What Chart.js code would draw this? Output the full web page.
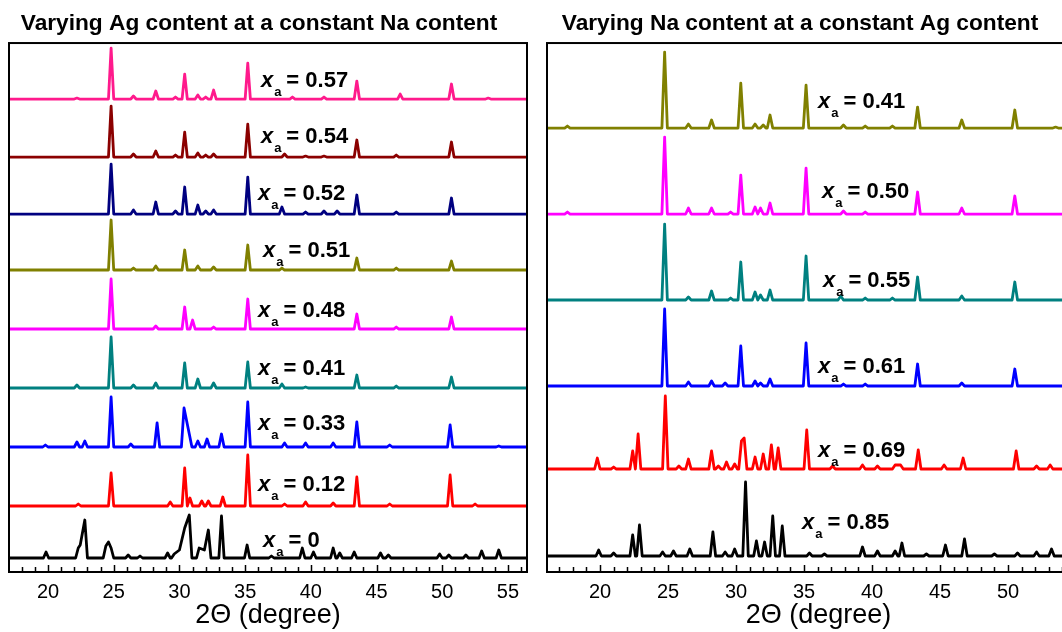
<!DOCTYPE html>
<html><head><meta charset="utf-8">
<script src="https://cdn.jsdelivr.net/npm/chart.js@4.4.1/dist/chart.umd.min.js"></script>
<style>
html,body{margin:0;padding:0;background:#fff;overflow:hidden;width:1062px;height:632px;position:relative;}
#c1{position:absolute;left:-20px;top:0;}
#c2{position:absolute;left:510px;top:0;}
</style></head><body>
<canvas id="c1" width="560" height="632"></canvas>
<canvas id="c2" width="600" height="632"></canvas>
<script>
// ---------- data ----------
const tickValues = [20, 25, 30, 35, 40, 45, 50, 55];
const axisTitle = '2\u0398 (degree)';
const leftTitle = 'Varying Ag content at a constant Na content';
const rightTitle = 'Varying Na content at a constant Ag content';

// left panel (varying Ag), top to bottom
const leftLabels  = ['0.57', '0.54', '0.52', '0.51', '0.48', '0.41', '0.33', '0.12', '0'];
const leftOffsets = [473, 415, 358, 302, 243, 184, 125, 66, 14];
const L057 = [[22.2,1],[24.8,51],[26.5,3],[28.2,8],[29.7,2],[30.4,25],[31.4,4],[32.0,2],[32.6,9],[35.2,36],[38.6,2],[41.0,2],[43.5,18],[46.8,5],[50.7,15],[53.5,1]];
const L054 = [[24.8,51],[26.5,3],[28.2,6],[29.7,2],[30.4,25],[31.4,4],[32.0,2],[32.6,3],[35.2,33],[38.0,3],[39.6,1],[41.0,1],[43.5,17],[46.5,2],[50.7,15]];
const L052 = [[24.8,50],[26.5,4],[28.2,12],[29.7,3],[30.4,27],[31.4,9],[32.0,3],[32.6,4],[35.2,37],[37.8,7],[39.6,2],[41.0,3],[42.0,3],[43.5,19],[46.5,2],[50.7,16]];
const L051 = [[24.8,50],[26.5,2],[28.2,4],[30.4,20],[31.4,4],[32.6,3],[35.2,25],[37.8,2],[43.5,12],[46.5,2],[50.7,9]];
const L048 = [[24.8,50],[28.2,3],[30.4,22],[31.0,9],[32.6,2],[35.2,30],[43.5,15],[46.5,2],[50.7,12]];
const L041 = [[22.2,3],[24.8,51],[26.5,3],[28.2,5],[30.4,25],[31.4,9],[32.6,5],[35.2,26],[37.8,4],[39.6,1],[43.5,13],[46.5,2],[50.7,11]];
const L033 = [[19.8,2],[22.2,5],[22.8,6],[24.8,50],[26.3,3],[28.3,24],[30.35,39],[30.75,13],[31.4,6],[32.1,8],[33.2,13],[35.2,45],[38.0,4],[39.6,4],[41.7,4],[43.5,25],[46.0,2],[50.6,22],[54.3,1]];
const L012 = [[22.3,2],[24.8,33],[29.3,4],[30.4,38],[30.8,8],[31.7,5],[32.2,5],[33.3,9],[35.2,51],[38.0,2],[39.6,4],[41.7,3],[43.5,29],[46.0,2],[50.6,31],[52.5,2]];
const L000 = [[19.85,6],[22.3,10],[22.45,13],[22.8,38],[24.4,12],[24.6,16],[24.8,10],[26.1,3],[27.0,2],[29.1,5],[29.6,4],[30.0,8],[30.4,30],[30.75,43],[31.5,10],[31.9,8],[32.2,28],[33.2,42],[35.15,13],[37.0,2],[39.35,10],[40.2,6],[41.7,10],[42.2,5],[43.3,6],[45.3,5],[45.9,3],[49.8,4],[50.5,3],[51.8,3],[53.0,7],[54.3,8]];
const leftSeries = [L057, L054, L052, L051, L048, L041, L033, L012, L000];
const leftColors = ['#FF1A8C', '#8B0000', '#000080', '#808000', '#FF00FF', '#008080', '#0000FF', '#FF0000', '#000000'];

// right panel (varying Na), top to bottom
const rightLabels  = ['0.41', '0.50', '0.55', '0.61', '0.69', '0.85'];
const rightOffsets = [444, 358, 272, 186, 103, 16];
const R041 = [[17.6,2],[24.75,76],[26.5,4],[28.2,8],[30.35,45],[31.4,4],[32.0,3],[32.5,13],[35.15,43],[37.9,3],[39.5,2],[41.5,2],[43.35,21],[46.6,8],[50.5,18],[53.5,1]];
const R050 = [[17.6,2],[24.75,77],[26.5,6],[28.2,6],[29.6,2],[30.35,39],[31.4,7],[31.8,6],[32.5,11],[35.15,46],[37.9,3],[39.5,2],[43.35,22],[46.6,6],[50.5,18]];
const R055 = [[24.75,76],[26.5,3],[28.2,9],[29.6,2],[30.35,38],[31.4,8],[31.8,5],[32.5,10],[35.15,44],[37.7,4],[39.5,2],[41.5,2],[43.35,23],[46.6,4],[50.5,18]];
const R061 = [[24.75,77],[26.5,4],[28.2,5],[29.2,3],[30.35,40],[31.4,5],[31.8,3],[32.5,7],[35.15,43],[37.9,2],[39.5,2],[43.35,22],[46.6,3],[50.5,17]];
const R069 = [[19.8,11],[21.0,2],[22.4,18],[22.8,35],[24.8,73],[25.8,3],[26.5,10],[28.2,18],[28.7,3],[29.3,7],[29.9,5],[30.4,28],[30.6,31],[31.4,12],[32.0,15],[32.6,24],[33.1,21],[35.2,39],[37.1,3],[39.3,4],[40.4,3],[41.7,4],[42.1,4],[43.4,19],[45.3,4],[46.7,11],[50.6,18],[52.1,3],[53.1,4]];
const R085 = [[19.9,6],[21.0,3],[22.4,21],[22.9,31],[24.6,4],[25.4,5],[26.6,7],[28.3,24],[29.2,4],[29.9,7],[30.7,74],[31.5,15],[32.1,14],[32.7,40],[33.4,30],[35.4,3],[36.5,2],[39.3,9],[40.4,5],[41.7,5],[42.2,13],[44.0,2],[45.4,11],[46.8,17],[49.0,2],[50.7,3],[52.1,4],[53.2,7],[54.5,3]];
const rightSeries = [R041, R050, R055, R061, R069, R085];
const rightColors = ['#808000', '#FF00FF', '#008080', '#0000FF', '#FF0000', '#000000'];

// label anchors (2θ of the "x", level of the text centre)
const leftLabelX = [36.2, 36.2, 35.98, 36.36, 35.98, 35.98, 35.98, 35.98, 36.36];
const leftLabelY = [491, 435, 378, 321, 261, 203, 148, 87, 31];
const rightLabelX = [36.03, 36.32, 36.39, 36.03, 36.03, 34.85];
const rightLabelY = [470, 380, 291, 205, 121, 49];

// ---------- drawing ----------
const FONT = 'Arial, "Liberation Sans", Helvetica, sans-serif';
const HALF_W = 0.2;

function trace(peaks, off, xmin, xmax) {
  const s = peaks.slice().sort((a, b) => a[0] - b[0]);
  const pts = [{x: xmin, y: off}];
  s.forEach((p, i) => {
    const prev = s[i - 1], next = s[i + 1];
    if (!prev || p[0] - prev[0] >= 2 * HALF_W) pts.push({x: p[0] - HALF_W, y: off});
    pts.push({x: p[0], y: off + p[1]});
    if (!next || next[0] - p[0] >= 2 * HALF_W) pts.push({x: p[0] + HALF_W, y: off});
  });
  pts.push({x: xmax, y: off});
  return pts;
}

const deco = {
  id: 'deco',
  afterDatasetsDraw(chart, args, opts) {
    const {ctx, chartArea: a, scales: {x, y}} = chart;
    ctx.save();
    ctx.strokeStyle = '#000';
    ctx.lineWidth = 1.5;
    for (let v = Math.ceil(x.min); v <= Math.floor(x.max); v++) {
      const px = Math.round(x.getPixelForValue(v)) + 0.5;
      const len = v % 5 === 0 ? 7 : 5;
      ctx.beginPath(); ctx.moveTo(px, a.bottom); ctx.lineTo(px, a.bottom - len); ctx.stroke();
    }
    ctx.lineWidth = 2;
    ctx.strokeRect(a.left, a.top, a.right - a.left, a.bottom - a.top);
    ctx.fillStyle = '#000';
    ctx.textBaseline = 'middle';
    ctx.textAlign = 'left';
    opts.labels.forEach((t, i) => {
      const px = x.getPixelForValue(opts.lx[i]);
      const py = y.getPixelForValue(opts.ly[i]);
      ctx.font = 'italic bold 22px ' + FONT;
      ctx.fillText('x', px, py);
      const w = ctx.measureText('x').width;
      ctx.font = 'bold 13px ' + FONT;
      ctx.fillText('a', px + w + 1, py + 11);
      const wa = ctx.measureText('a').width;
      ctx.font = 'bold 22px ' + FONT;
      ctx.fillText('= ' + t, px + w + wa + 6, py);
    });
    ctx.restore();
  }
};

function makeChart(id, c) {
  return new Chart(document.getElementById(id), {
    type: 'line',
    data: {
      datasets: c.series.map((s, i) => ({
        data: trace(s, c.offsets[i], c.min, c.max),
        borderColor: c.colors[i], borderWidth: 2.8, pointRadius: 0, tension: 0,
        fill: false, borderJoinStyle: 'round'
      }))
    },
    options: {
      responsive: false, animation: false, events: [],
      layout: {padding: {left: c.padL, right: c.padR, top: 0, bottom: 0}},
      plugins: {
        legend: {display: false}, tooltip: {enabled: false},
        title: {display: true, text: c.title, color: '#000',
                font: {family: FONT, size: 22.7, weight: 'bold'}, padding: {top: 10.5, bottom: 5.3}},
        deco: {labels: c.labels, lx: c.lx, ly: c.ly}
      },
      scales: {
        x: {
          type: 'linear', min: c.min, max: c.max,
          afterBuildTicks: s => { s.ticks = tickValues.map(v => ({value: v})); },
          ticks: {font: {family: FONT, size: 20}, color: '#000', padding: 0, maxRotation: 0, autoSkip: false,
                  callback: v => String(v)},
          grid: {display: false}, border: {display: false},
          title: {display: true, text: axisTitle, color: '#000', font: {family: FONT, size: 27},
                  padding: {top: 0, bottom: 0}},
          afterFit: s => { s.height = 60; }
        },
        y: {
          type: 'linear', min: 0, max: 529, display: true,
          ticks: {display: false}, grid: {display: false}, border: {display: false},
          afterFit: s => { s.width = c.yW; }
        }
      }
    },
    plugins: [deco]
  });
}

makeChart('c1', {series: leftSeries, offsets: leftOffsets, colors: leftColors, labels: leftLabels,
  lx: leftLabelX, ly: leftLabelY, min: 17.03, max: 56.45, title: leftTitle, padL: 11, padR: 13, yW: 18});
makeChart('c2', {series: rightSeries, offsets: rightOffsets, colors: rightColors, labels: rightLabels,
  lx: rightLabelX, ly: rightLabelY, min: 16.1, max: 56.03, title: rightTitle, padL: 0, padR: 20, yW: 37});
</script>
</body></html>
